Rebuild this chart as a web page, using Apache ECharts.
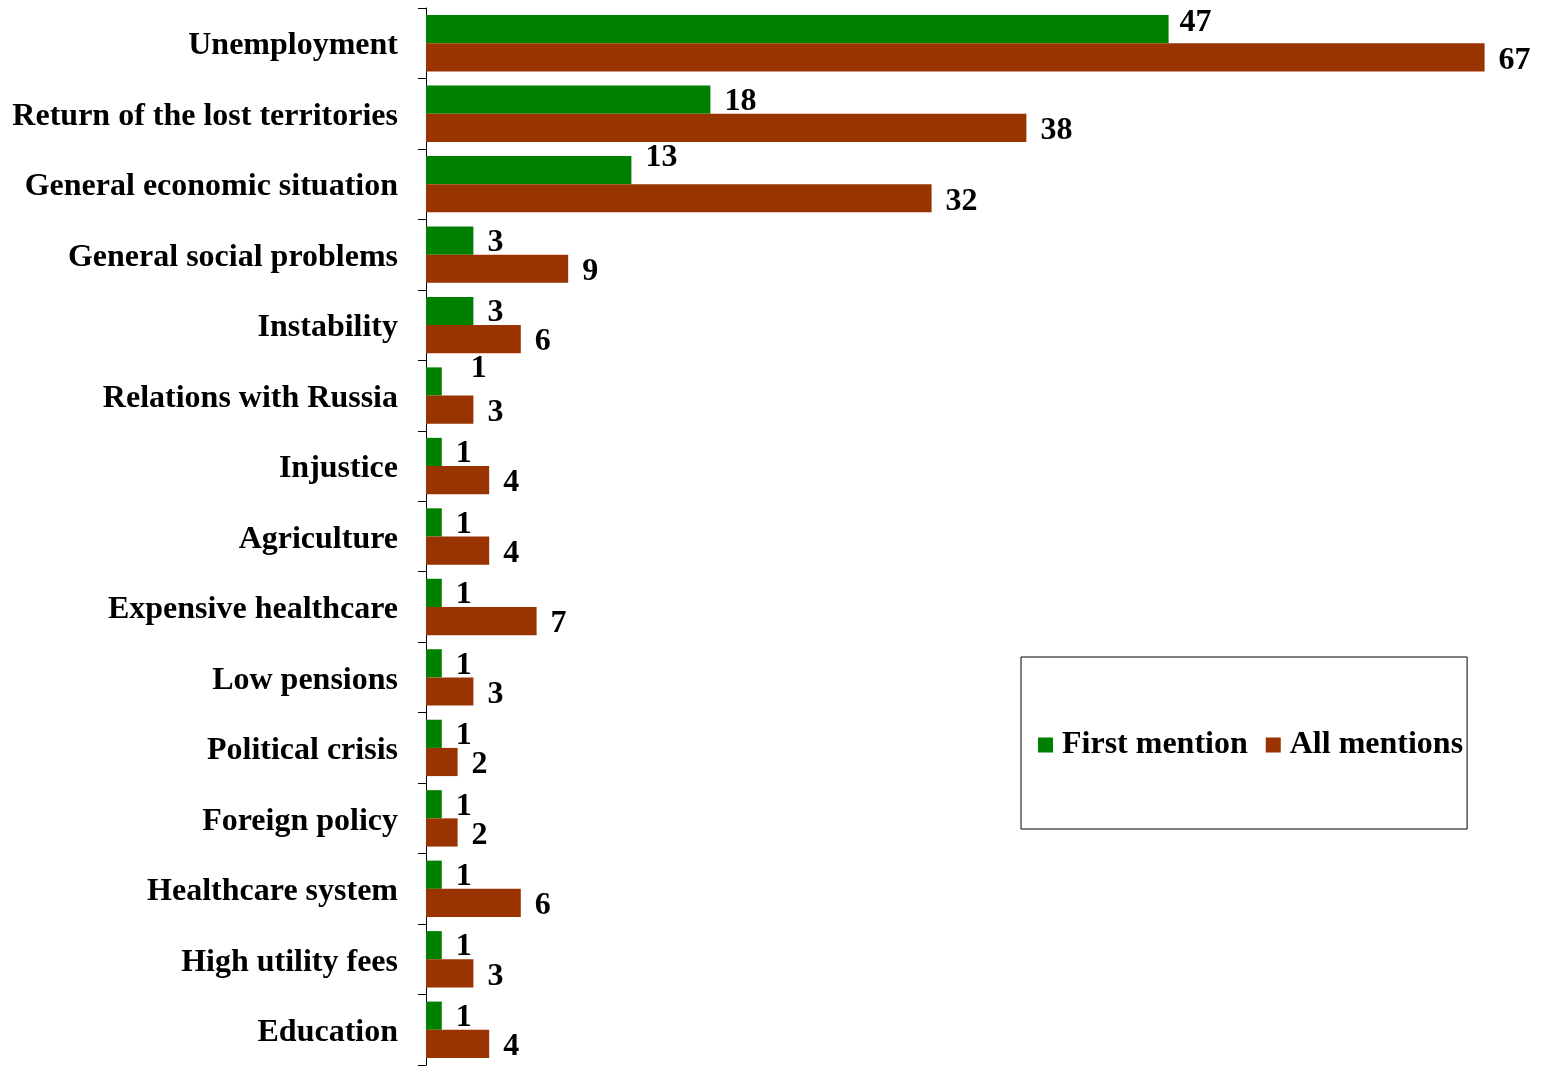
<!DOCTYPE html>
<html>
<head>
<meta charset="utf-8">
<script src="https://cdn.jsdelivr.net/npm/echarts@6/dist/echarts.min.js"></script>
<style>
html,body{margin:0;padding:0;background:#fff;}
#chart{width:1541px;height:1070px;}
</style>
</head>
<body>
<div id="chart"></div>
<script>
var categories = ["Unemployment","Return of the lost territories","General economic situation","General social problems","Instability","Relations with Russia","Injustice","Agriculture","Expensive healthcare","Low pensions","Political crisis","Foreign policy","Healthcare system","High utility fees","Education"];
var firstMention = [47,18,13,3,3,1,1,1,1,1,1,1,1,1,1];
var allMentions = [67,38,32,9,6,3,4,4,7,3,2,2,6,3,4];
var seriesNames = ["First mention","All mentions"];

// label nudges (style only) for a few green labels
var greenLabelNudge = {0:[-3,-6], 2:[0,-12], 5:[15,-13]};

var FONT = "'Liberation Serif','Times New Roman',serif";
var FS = 32;

function buildData(values, nudge, defOffset){
  return values.map(function(v,i){
    var off = (nudge && nudge[i]) ? nudge[i] : defOffset;
    return {value: v, label: {offset: off}};
  });
}

var chart = echarts.init(document.getElementById('chart'));
chart.setOption({
  animation: false,
  backgroundColor: '#fff',
  grid: {left: 426, right: 9, top: 8, bottom: 5, containLabel: false},
  xAxis: {
    type: 'value', min: 0, max: 70,
    show: false
  },
  yAxis: {
    type: 'category', data: categories, inverse: true,
    axisLine: {show: true, lineStyle: {color: '#000', width: 1}},
    axisTick: {show: true, length: 8, lineStyle: {color: '#000'}},
    axisLabel: {
      margin: 28,
      formatter: function(v){ return '{c|' + v + '}'; },
      rich: {c: {color: '#000', fontFamily: FONT, fontWeight: 'bold', fontSize: FS, lineHeight: 32, padding: [6,0,0,0]}}
    },
    splitLine: {show: false}
  },
  legend: {
    left: 1021, top: 657,
    orient: 'horizontal',
    padding: [72, 4, 68, 17],
    borderColor: '#000', borderWidth: 1,
    itemWidth: 15, itemHeight: 15, itemGap: 18,
    icon: 'rect',
    data: seriesNames,
    textStyle: {color: '#000', fontFamily: FONT, fontWeight: 'bold', fontSize: FS, lineHeight: 32, padding: [0,0,0,4]}
  },
  series: [
    {
      name: seriesNames[0], type: 'bar',
      data: buildData(firstMention, greenLabelNudge, [0,2]),
      itemStyle: {color: '#008000'},
      barGap: '0%', barCategoryGap: '20%',
      label: {show: true, position: 'right', distance: 14, color: '#000', fontFamily: FONT, fontWeight: 'bold', fontSize: FS}
    },
    {
      name: seriesNames[1], type: 'bar',
      data: buildData(allMentions, null, [0,3]),
      itemStyle: {color: '#993300'},
      barGap: '0%', barCategoryGap: '20%',
      label: {show: true, position: 'right', distance: 14, color: '#000', fontFamily: FONT, fontWeight: 'bold', fontSize: FS}
    }
  ]
});
</script>
</body>
</html>
